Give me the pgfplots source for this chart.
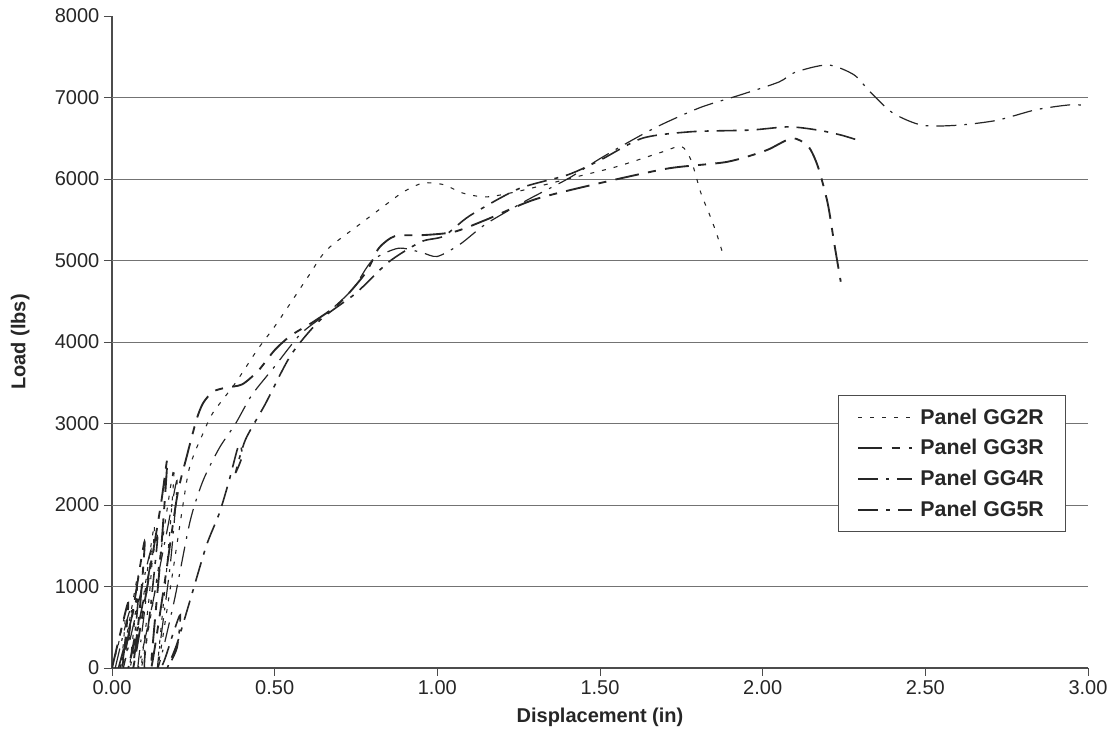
\documentclass[border=0pt]{standalone}
\usepackage{fontspec}
\setmainfont{Liberation Sans}
\usepackage{pgfplots}
\pgfplotsset{compat=1.18}

\begin{document}
\begin{tikzpicture}
\begin{axis}[
    at={(0,0)}, anchor=south west,
    scale only axis,
    width=732pt, height=489pt,
    xmin=0, xmax=3, ymin=0, ymax=8000,
    axis x line*=bottom, axis y line*=left,
    axis line style={black!70, line width=0.8pt, -},
    xtick={0,0.5,1,1.5,2,2.5,3},
    xticklabels={0.00,0.50,1.00,1.50,2.00,2.50,3.00},
    ytick={0,1000,...,8000},
    yticklabels={0,1000,2000,3000,4000,5000,6000,7000,8000},
    extra y ticks={1000,2000,3000,4000,5000,6000,7000},
    extra y tick labels={},
    extra y tick style={grid=major, major tick length=0pt},
    grid style={black!55, line width=0.7pt},
    tick align=outside, major tick length=6pt,
    tick style={black!70, line width=0.7pt},
    ticklabel style={font=\fontsize{15}{17}\selectfont, text=black!85},
    xlabel={Displacement (in)},
    ylabel={Load (lbs)},
    label style={font=\bfseries\fontsize{15}{17}\selectfont, text=black!85},
    xlabel style={at={(axis description cs:0.5,-0.0752)}, anchor=center},
    ylabel style={at={(axis description cs:-0.094,0.5)}, anchor=center},
    legend style={at={(axis description cs:0.744,0.419)}, anchor=north west,
        draw=black!70, line width=0.7pt, fill=white,
        font=\bfseries\fontsize{16}{19}\selectfont, text=black!85,
        row sep=6pt, inner xsep=14pt, inner ysep=8pt,
        /tikz/every even column/.append style={column sep=0pt}},
    legend cell align=left,
    legend image code/.code={\draw[#1] (0pt,0pt) -- (40pt,0pt);},
    every axis plot/.append style={smooth, tension=0.45, black!85},
]

% Panel GG2R
\addplot[line width=0.8pt, dash pattern=on 3pt off 6pt] coordinates {
  (0,0) (0.02,300) (0.04,650) (0.035,300) (0.025,0)
  (0.05,500) (0.08,1150) (0.07,600) (0.055,0)
  (0.09,700) (0.13,1750) (0.115,900) (0.09,0)
  (0.13,900) (0.19,2450) (0.17,1300) (0.14,0)
  (0.18,1000) (0.23,2300) (0.25,2600) (0.28,2880) (0.31,3130) (0.38,3500)
  (0.446,3900) (0.507,4230) (0.60,4785) (0.66,5130) (0.77,5470) (0.83,5650)
  (0.895,5840) (0.956,5950) (1.02,5930) (1.076,5830) (1.15,5780) (1.25,5850)
  (1.4,6000) (1.55,6150) (1.69,6330) (1.75,6400) (1.78,6230) (1.81,5830)
  (1.84,5530) (1.86,5310) (1.88,5050)
};
\addlegendentry{\hspace{4pt}Panel GG2R}

% Panel GG3R
\addplot[line width=1.4pt, dash pattern=on 18pt off 7pt on 6pt off 7pt] coordinates {
  (0,0) (0.03,500) (0.05,800) (0.04,300) (0.03,0)
  (0.06,600) (0.10,1550) (0.085,700) (0.065,0)
  (0.10,800) (0.15,2000) (0.17,2550) (0.15,1400) (0.12,0)
  (0.16,1000) (0.20,2100) (0.23,2600) (0.26,3050) (0.28,3250) (0.31,3390)
  (0.35,3440) (0.40,3480) (0.45,3650) (0.50,3900) (0.55,4080) (0.62,4250)
  (0.70,4480) (0.78,4850) (0.82,5150) (0.87,5300) (0.95,5310) (1.05,5350)
  (1.15,5500) (1.3,5750) (1.5,5950) (1.71,6130) (1.89,6210) (2.01,6350)
  (2.09,6500) (2.14,6400) (2.17,6150) (2.20,5700) (2.22,5210) (2.24,4740)
};
\addlegendentry{\hspace{4pt}Panel GG3R}

% Panel GG4R
\addplot[line width=0.9pt, dash pattern=on 15pt off 6pt on 2pt off 6pt] coordinates {
  (0.01,0) (0.04,500) (0.06,750) (0.05,300) (0.035,0)
  (0.07,600) (0.12,1450) (0.10,700) (0.08,0)
  (0.12,700) (0.17,1700) (0.20,2300) (0.18,1300) (0.14,0)
  (0.19,800) (0.24,1800) (0.28,2300) (0.33,2700) (0.38,3000) (0.43,3350)
  (0.50,3700) (0.58,4100) (0.66,4350) (0.74,4650) (0.80,5000) (0.88,5150)
  (0.95,5100) (1.00,5050) (1.07,5200) (1.15,5450) (1.28,5750) (1.40,6000)
  (1.5,6250) (1.6,6480) (1.685,6660) (1.81,6880) (1.93,7030) (2.05,7190)
  (2.10,7310) (2.20,7400) (2.28,7280) (2.33,7070) (2.40,6810) (2.49,6660)
  (2.60,6660) (2.72,6720) (2.84,6850) (2.945,6910) (3.0,6900)
};
\addlegendentry{\hspace{4pt}Panel GG4R}

% Panel GG5R
\addplot[line width=1.2pt, dash pattern=on 15pt off 6pt on 3pt off 6pt] coordinates {
  (0.02,0) (0.05,450) (0.08,900) (0.07,400) (0.05,0)
  (0.08,500) (0.12,1300) (0.14,1600) (0.12,800) (0.10,0)
  (0.15,0) (0.19,450) (0.21,650) (0.20,250) (0.17,0)
  (0.20,300) (0.24,830) (0.29,1500) (0.33,1900) (0.36,2300) (0.39,2740)
  (0.40,2600) (0.38,2400) (0.41,2800) (0.47,3230) (0.55,3840) (0.64,4270)
  (0.75,4600) (0.85,4980) (0.95,5230) (1.02,5300) (1.1,5550) (1.25,5880)
  (1.4,6050) (1.5,6230) (1.63,6500) (1.78,6580) (1.96,6600) (2.08,6640)
  (2.17,6600) (2.24,6540) (2.29,6480)
};
\addlegendentry{\hspace{4pt}Panel GG5R}

\end{axis}
\pgfresetboundingbox
\path[use as bounding box] (-84pt,-65.25pt) rectangle (750.75pt,501pt);
\end{tikzpicture}
\end{document}
